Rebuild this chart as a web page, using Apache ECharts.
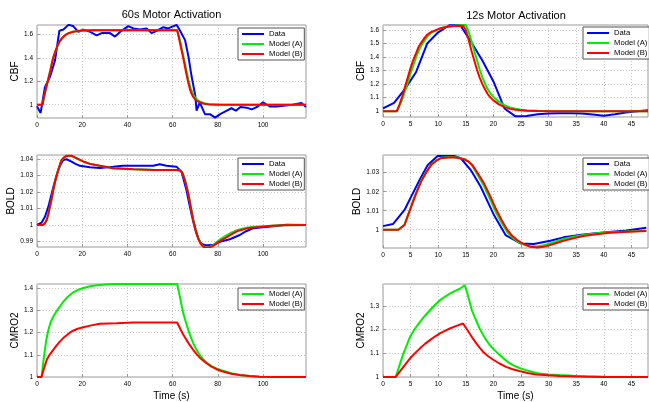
<!DOCTYPE html>
<html>
<head>
<meta charset="utf-8">
<script src="https://cdn.jsdelivr.net/npm/echarts@6/dist/echarts.min.js"></script>
<style>html,body{margin:0;padding:0;background:#fff}#c{width:649px;height:402px}</style>
</head>
<body>
<div id="c"></div>
<script>
// ---------- data (time in s, value) ----------
const cbf60Data = [[0,0.986],[1.6,0.93],[3.5,1.15],[5.8,1.24],[8,1.38],[9.9,1.63],[11.7,1.64],[13.9,1.68],[16,1.67],[18.3,1.62],[20.5,1.64],[23.5,1.62],[26.4,1.59],[28.6,1.61],[32.3,1.61],[34.5,1.58],[36.7,1.62],[40.4,1.67],[42.6,1.65],[45.6,1.64],[48.5,1.65],[50.7,1.61],[53,1.63],[55.9,1.66],[58,1.65],[61.8,1.68],[63.3,1.63],[65.5,1.55],[67,1.41],[68.4,1.24],[70,1.08],[70.6,0.95],[72,1.02],[74.3,0.92],[76.5,0.92],[78.8,0.89],[81,0.92],[84,0.95],[86,0.97],[88,0.95],[90,0.98],[92.8,0.975],[95,0.96],[97.2,0.98],[100,1.02],[103,0.985],[106,0.985],[108,0.99],[113,1.0],[117,1.015],[119,0.98]];
const cbf60ModelA = [[0,1],[2.5,1],[3,1.05],[4,1.14],[5,1.22],[6,1.30],[7,1.385],[8,1.445],[9,1.495],[10,1.535],[11,1.563],[12,1.583],[13,1.598],[14,1.609],[16,1.621],[18,1.628],[20,1.632],[25,1.635],[62,1.635],[63,1.57],[64,1.48],[65,1.39],[66,1.30],[67,1.21],[68,1.14],[69,1.09],[70,1.06],[71,1.04],[72,1.028],[74,1.013],[76,1.006],[80,1.001],[119,1]];
const cbf60ModelB = [[0,1],[2.5,1],[3,1.06],[4,1.14],[5,1.22],[6,1.30],[7,1.39],[8,1.45],[9,1.50],[10,1.54],[11,1.565],[12,1.585],[13,1.60],[14,1.61],[16,1.622],[18,1.628],[20,1.632],[25,1.635],[62,1.635],[63,1.55],[64,1.46],[65,1.37],[66,1.27],[67,1.18],[68,1.11],[69,1.07],[70,1.045],[71,1.03],[72,1.02],[74,1.008],[76,1.003],[80,1.0],[119,1]];

const cbf12Data = [[0,1.02],[2,1.062],[4,1.165],[6,1.29],[8,1.50],[10,1.583],[12,1.635],[14,1.635],[16,1.51],[18,1.375],[20,1.22],[22,1.02],[24,0.962],[26,0.965],[28,0.978],[30,0.983],[32,0.985],[34,0.985],[36,0.983],[38,0.975],[40,0.967],[42,0.978],[44,0.99],[46,1.0],[48,1.007]];
const cbf12ModelA = [[0,1],[2.5,1],[3,1.04],[3.5,1.09],[4,1.15],[4.5,1.21],[5,1.28],[5.5,1.34],[6,1.40],[6.5,1.45],[7,1.49],[7.5,1.52],[8,1.55],[8.5,1.57],[9,1.585],[10,1.605],[11,1.618],[12,1.626],[13,1.632],[14,1.636],[15,1.637],[15.5,1.59],[16,1.52],[16.5,1.45],[17,1.38],[17.5,1.31],[18,1.25],[18.5,1.20],[19,1.16],[19.5,1.13],[20,1.105],[21,1.07],[22,1.045],[23,1.028],[24,1.018],[25,1.011],[26,1.007],[28,1.003],[30,1.001],[35,1],[48,1]];
const cbf12ModelB = [[0,1],[2.5,1],[3,1.05],[3.5,1.11],[4,1.18],[4.5,1.25],[5,1.32],[5.5,1.38],[6,1.43],[6.5,1.48],[7,1.51],[7.5,1.54],[8,1.565],[8.5,1.58],[9,1.59],[10,1.607],[11,1.618],[12,1.626],[13,1.63],[14.5,1.632],[15,1.60],[15.5,1.53],[16,1.45],[16.5,1.38],[17,1.31],[17.5,1.25],[18,1.20],[18.5,1.16],[19,1.125],[19.5,1.10],[20,1.08],[21,1.05],[22,1.03],[23,1.017],[24,1.01],[25,1.006],[26,1.003],[28,1.001],[30,1],[48,1]];

const bold60Data = [[0,1.0],[2,1.0014],[3.5,1.005],[5,1.011],[6,1.0165],[7.2,1.023],[8.3,1.0285],[9.4,1.0335],[10.5,1.037],[11.6,1.0396],[13.1,1.04],[15.3,1.0386],[17,1.0372],[19,1.036],[23.4,1.0351],[27.8,1.0347],[33.7,1.0355],[38,1.0361],[45.5,1.0361],[51.4,1.0361],[54.3,1.037],[57.3,1.036],[61.7,1.0355],[63.9,1.0325],[65,1.027],[66.1,1.0213],[67.2,1.014],[68.3,1.007],[69.4,1.0005],[70.5,0.9949],[71.6,0.991],[72.8,0.9884],[75,0.9876],[77.9,0.9878],[80.9,0.9898],[85.3,0.9913],[89.7,0.9939],[92.5,0.9962],[95.6,0.998],[100,0.9986],[105.9,0.9994],[110.3,1.0002],[119,1.0]];
const bold60ModelA = [[0,1],[2.5,1],[3.5,1.001],[4.3,1.003],[5,1.0065],[5.7,1.011],[6.5,1.016],[7.2,1.0213],[8.3,1.028],[9.4,1.0335],[10.2,1.037],[10.9,1.0394],[12,1.041],[13.1,1.042],[15.3,1.042],[17,1.0409],[19,1.0396],[21,1.0384],[23.4,1.0373],[27.8,1.036],[33.7,1.0346],[42.6,1.0339],[51.4,1.0336],[62,1.0335],[63.5,1.033],[64.4,1.0316],[65.5,1.0272],[66.9,1.0196],[68,1.0115],[69.1,1.0035],[70.2,0.9973],[71.3,0.9921],[72.4,0.9887],[73.5,0.987],[75,0.9863],[76.4,0.9866],[78,0.9878],[79.4,0.9895],[81.5,0.9917],[83.8,0.9937],[86,0.9953],[88.2,0.9967],[90.4,0.9976],[92.6,0.9983],[96,0.9989],[100,0.9993],[104,0.9996],[108.8,0.9999],[119,1.0]];
const bold60ModelB = [[0,1],[2.5,1],[3.5,1.001],[4.3,1.003],[5,1.0065],[5.7,1.011],[6.5,1.016],[7.2,1.0213],[8.3,1.028],[9.4,1.0335],[10.2,1.037],[10.9,1.0396],[12,1.0412],[13.1,1.0422],[15.3,1.0422],[17,1.041],[19,1.0396],[21,1.0383],[23.4,1.0372],[27.8,1.036],[33.7,1.0345],[42.6,1.0339],[51.4,1.0335],[62,1.0335],[63.5,1.033],[64.4,1.0315],[65.5,1.027],[66.9,1.0193],[68,1.011],[69.1,1.003],[70.2,0.997],[71.3,0.9919],[72.4,0.9885],[73.5,0.9868],[75,0.9862],[76.4,0.9864],[78,0.9873],[79.4,0.9888],[81.5,0.9907],[83.8,0.9925],[86,0.9943],[88.2,0.996],[90.4,0.997],[92.6,0.9978],[96,0.9985],[100,0.999],[104,0.9995],[108.8,0.9998],[119,1.0]];

const bold12Data = [[0,1.0019],[1.8,1.003],[3.9,1.0104],[5.1,1.0174],[6.6,1.026],[8.1,1.034],[9.9,1.0388],[12.9,1.0388],[14.1,1.0376],[15.9,1.0314],[17.7,1.0226],[20.1,1.0077],[22.2,0.9972],[24.9,0.9928],[27.3,0.9925],[30.3,0.9942],[32.7,0.996],[36.3,0.9975],[39.9,0.9986],[44.1,0.9996],[47.7,1.0011]];
const bold12ModelA = [[0,1],[2.8,1],[3.9,1.0028],[5.1,1.0125],[6,1.0195],[6.9,1.0258],[7.8,1.0303],[8.7,1.0342],[9.6,1.0364],[10.5,1.0378],[12.3,1.0383],[13.5,1.038],[14.7,1.0372],[15.5,1.036],[16.2,1.0335],[17.2,1.0285],[18.3,1.023],[19.4,1.016],[20.4,1.0095],[21.5,1.0035],[22.5,0.9988],[23.4,0.996],[24.3,0.994],[25.5,0.9922],[26.7,0.9912],[28,0.9912],[29.1,0.9918],[30.9,0.9934],[32.7,0.9951],[34.5,0.9963],[36.3,0.9973],[38.7,0.9981],[41.1,0.9987],[44.4,0.9991],[47.7,0.9995]];
const bold12ModelB = [[0,1],[2.8,1],[3.9,1.0025],[5.1,1.012],[6,1.019],[6.9,1.0253],[7.8,1.030],[8.7,1.034],[9.6,1.0362],[10.5,1.0376],[12.3,1.0381],[13.5,1.0378],[14.7,1.037],[15.5,1.0358],[16.2,1.034],[17.2,1.0296],[18.3,1.0244],[19.4,1.0178],[20.4,1.0113],[21.5,1.005],[22.5,1.0],[23.4,0.9968],[24.3,0.9946],[25.5,0.9925],[26.7,0.991],[28,0.9907],[29.1,0.991],[30.9,0.9925],[32.7,0.9942],[34.5,0.9955],[36.3,0.9967],[38.7,0.9976],[41.1,0.9984],[44.4,0.9989],[47.7,0.9993]];

const cmro60ModelA = [[0,1],[2,1],[3,1.085],[4,1.16],[5,1.21],[6,1.245],[7.2,1.272],[8.7,1.297],[10.2,1.317],[11.6,1.338],[13.1,1.355],[14.5,1.368],[16,1.38],[18,1.391],[20.5,1.40],[24,1.409],[27.8,1.414],[31.5,1.417],[35.2,1.418],[62,1.418],[62.6,1.39],[63.2,1.362],[64,1.32],[64.7,1.287],[65.8,1.248],[66.9,1.212],[68,1.18],[69.1,1.152],[70.5,1.123],[72,1.099],[73.5,1.08],[75,1.065],[77,1.05],[79.4,1.039],[81.5,1.031],[83.8,1.024],[86.5,1.016],[89.7,1.009],[94,1.005],[98.5,1.0015],[105,1.0005],[119,1]];
const cmro60ModelB = [[0,1],[2,1],[3,1.035],[4.3,1.077],[5.7,1.102],[7.2,1.122],[8.7,1.142],[10.2,1.16],[11.6,1.175],[13.1,1.188],[14.5,1.199],[16,1.208],[18,1.217],[20.5,1.224],[24,1.232],[27.8,1.239],[31.5,1.241],[35.2,1.242],[42.6,1.245],[62,1.245],[63.2,1.22],[64.6,1.192],[66.1,1.167],[67.6,1.143],[69.1,1.122],[70.5,1.104],[72,1.087],[73.5,1.074],[75,1.062],[77,1.048],[79.4,1.035],[81.5,1.027],[83.8,1.02],[86.5,1.013],[89.7,1.009],[94,1.004],[98.5,1.0015],[105,1.0005],[119,1]];

const cmro12ModelA = [[0,1],[2.3,1],[3,1.05],[3.7,1.1],[4.9,1.17],[5.8,1.205],[6.7,1.233],[7.6,1.259],[8.5,1.282],[9.4,1.304],[10.3,1.324],[11.2,1.339],[12.1,1.352],[13,1.363],[13.9,1.373],[14.8,1.387],[15.2,1.36],[15.7,1.317],[16.1,1.282],[16.6,1.254],[17.5,1.205],[18.1,1.18],[18.7,1.156],[19.3,1.137],[19.9,1.121],[20.8,1.1],[21.7,1.081],[22.6,1.064],[23.5,1.05],[24.7,1.038],[25.9,1.029],[27.1,1.021],[28.3,1.015],[30,1.011],[32,1.008],[34.4,1.005],[36.8,1.003],[40,1.001],[44,1],[48,1]];
const cmro12ModelB = [[0,1],[2.3,1],[3,1.022],[3.7,1.043],[4.9,1.079],[5.8,1.101],[6.7,1.121],[7.6,1.14],[8.5,1.156],[9.4,1.171],[10.3,1.184],[11.2,1.195],[12.1,1.205],[13.3,1.216],[14.5,1.226],[15.1,1.205],[15.7,1.184],[16.3,1.162],[16.9,1.142],[17.5,1.124],[18.1,1.107],[19,1.089],[19.9,1.074],[21.1,1.057],[22.3,1.043],[23.5,1.033],[24.7,1.025],[26.2,1.017],[27.7,1.011],[30,1.007],[32,1.004],[35,1.002],[40,1],[48,1]];

// ---------- axes / ticks ----------
const ticksX60 = [0,20,40,60,80,100];
const ticksX12 = [0,5,10,15,20,25,30,35,40,45];
const ticksCbf60 = [1,1.2,1.4,1.6];
const ticksCbf12 = [1,1.1,1.2,1.3,1.4,1.5,1.6];
const ticksBold60 = [0.99,1,1.01,1.02,1.03,1.04];
const ticksBold12 = [1,1.01,1.02,1.03];
const ticksCmro60 = [1,1.1,1.2,1.3,1.4];
const ticksCmro12 = [1,1.1,1.2,1.3];
const rangeX60 = [0,119];
const rangeX12 = [0,48];
const rangeCbf60 = [0.887,1.679];
const rangeCbf12 = [0.957,1.637];
const rangeBold60 = [0.9866,1.0426];
const rangeBold12 = [0.9904,1.0393];
const rangeCmro60 = [1,1.418];
const rangeCmro12 = [1,1.393];

const titles = ['60s Motor Activation','12s Motor Activation'];
const yNames = ['CBF','CBF','BOLD','BOLD','CMRO2','CMRO2'];
const xName = 'Time (s)';
const nameData = 'Data', nameA = 'Model (A)', nameB = 'Model (B)';

// ---------- build ----------
const FONT = "'Liberation Sans', Arial, Helvetica, sans-serif";
const C_BLUE = '#0000ff', C_GREEN = '#00ee00', C_RED = '#ff0000';
const BORDER = '#9a9a9a';

const grids = [
  {left:37, top:25, width:269, height:93},
  {left:383, top:25, width:265, height:92},
  {left:37, top:155, width:269, height:92},
  {left:383, top:155, width:265, height:93},
  {left:37, top:284, width:269, height:93},
  {left:383, top:284, width:265, height:93}
].map(g => Object.assign({show:true, borderColor:BORDER, borderWidth:1, backgroundColor:'#fff'}, g));

const xR = [rangeX60, rangeX12, rangeX60, rangeX12, rangeX60, rangeX12];
const xT = [ticksX60, ticksX12, ticksX60, ticksX12, ticksX60, ticksX12];
const yR = [rangeCbf60, rangeCbf12, rangeBold60, rangeBold12, rangeCmro60, rangeCmro12];
const yT = [ticksCbf60, ticksCbf12, ticksBold60, ticksBold12, ticksCmro60, ticksCmro12];

const splitStyle = {show:true, lineStyle:{color:'#c4c4c4', type:[1,2], width:1}};
const xAxis = xR.map((r,i) => ({
  type:'value', gridIndex:i, min:r[0], max:r[1],
  axisLine:{show:false},
  axisTick:{show:true, inside:true, length:3, lineStyle:{color:BORDER}, customValues:xT[i]},
  axisLabel:{show:true, customValues:xT[i], fontSize:6.5, color:'#000', fontFamily:FONT, margin:4},
  splitLine:splitStyle,
  name: i>=4 ? xName : '', nameLocation:'middle', nameGap:14,
  nameTextStyle:{fontSize:10, color:'#000', fontFamily:FONT}
}));
const yAxis = yR.map((r,i) => ({
  type:'value', gridIndex:i, min:r[0], max:r[1],
  axisLine:{show:false},
  axisTick:{show:true, inside:true, length:3, lineStyle:{color:BORDER}, customValues:yT[i]},
  axisLabel:{show:true, customValues:yT[i], fontSize:6.5, color:'#000', fontFamily:FONT, margin:4},
  splitLine:splitStyle,
  name:yNames[i], nameLocation:'middle', nameGap:17,
  nameTextStyle:{fontSize:10, color:'#000', fontFamily:FONT}
}));

function line(name, data, color, gi){
  return {name, type:'line', data, xAxisIndex:gi, yAxisIndex:gi, showSymbol:false, symbol:'none',
    lineStyle:{color, width:2}, itemStyle:{color}, z:3, silent:true, animation:false};
}
const series = [
  line(nameData, cbf60Data, C_BLUE, 0), line(nameA, cbf60ModelA, C_GREEN, 0), line(nameB, cbf60ModelB, C_RED, 0),
  line(nameData, cbf12Data, C_BLUE, 1), line(nameA, cbf12ModelA, C_GREEN, 1), line(nameB, cbf12ModelB, C_RED, 1),
  line(nameData, bold60Data, C_BLUE, 2), line(nameA, bold60ModelA, C_GREEN, 2), line(nameB, bold60ModelB, C_RED, 2),
  line(nameData, bold12Data, C_BLUE, 3), line(nameA, bold12ModelA, C_GREEN, 3), line(nameB, bold12ModelB, C_RED, 3),
  line(nameA, cmro60ModelA, C_GREEN, 4), line(nameB, cmro60ModelB, C_RED, 4),
  line(nameA, cmro12ModelA, C_GREEN, 5), line(nameB, cmro12ModelB, C_RED, 5)
];

function legend(names, left, top){
  return {data:names, left, top, orient:'vertical', icon:'rect', itemWidth:22, itemHeight:2,
    itemGap:0, padding:[1,2,1,4], backgroundColor:'#fff', borderColor:'#555', borderWidth:1,
    selectedMode:false, textStyle:{fontSize:7.7, lineHeight:10, color:'#000', fontFamily:FONT}};
}
const three = [nameData, nameA, nameB], two = [nameA, nameB];

const option = {
  animation:false,
  backgroundColor:'#fff',
  grid:grids, xAxis, yAxis, series,
  legend:[legend(three,238,28), legend(three,583,27), legend(three,238,158), legend(three,583,158), legend(two,238,288), legend(two,583,288)],
  graphic:[
    {type:'text', x:171.5, y:15, style:{text:titles[0], fontSize:11, fontFamily:FONT, fill:'#000', textAlign:'center', textVerticalAlign:'middle', align:'center', verticalAlign:'middle'}},
    {type:'text', x:516, y:15.5, style:{text:titles[1], fontSize:11, fontFamily:FONT, fill:'#000', textAlign:'center', textVerticalAlign:'middle', align:'center', verticalAlign:'middle'}}
  ]
};
const chart = echarts.init(document.getElementById('c'), null, {renderer:'canvas'});
chart.setOption(option);
</script>
</body>
</html>
